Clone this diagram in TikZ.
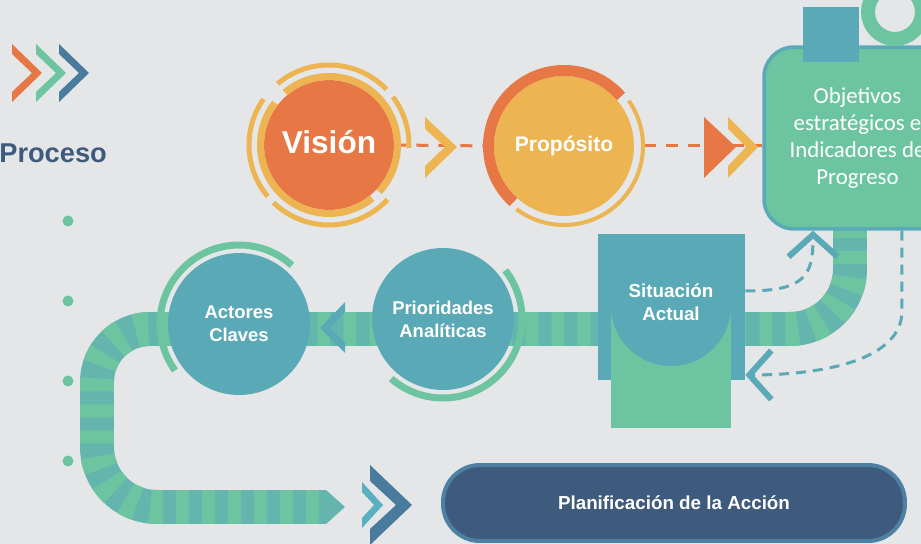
\documentclass[tikz,border=0pt]{standalone}
\usepackage{fontspec}
\setmainfont{Liberation Sans}
\newfontfamily\objfont{Carlito}
\usetikzlibrary{arrows.meta, positioning}

\definecolor{bgc}{HTML}{E5E6E8}
\definecolor{orangec}{HTML}{E77845}
\definecolor{yellowc}{HTML}{EDB452}
\definecolor{greenc}{HTML}{6CC4A1}
\definecolor{tealc}{HTML}{5AA9B7}
\definecolor{stripec}{HTML}{63B5AE}
\definecolor{navyc}{HTML}{3E5A7C}
\definecolor{bluec}{HTML}{487B9C}
\definecolor{edgec}{HTML}{4E80A1}
\definecolor{lighttealc}{HTML}{5AAFC0}

\begin{document}
\begin{tikzpicture}[x=0.02cm, y=0.02cm,
    >={Straight Barb[length=0.44cm, width=0.98cm, line width=0.12cm]},
    stage/.style={circle, inner sep=0pt, text=white, align=center, font=\bfseries\fontsize{10.5}{13}\selectfont},
    ring/.style={line width=0.14cm},
    thinring/.style={line width=0.1cm},
    band/.style={line width=0.68cm},
    orangedash/.style={orangec, line width=0.06cm, dash pattern=on 0.24cm off 0.2cm},
    tealdash/.style={tealc, line width=0.06cm, dash pattern=on 0.2cm off 0.14cm, ->}]
    \useasboundingbox (0,0) rectangle (921,-544);
    \fill[bgc] (0,0) rectangle (921,-544);
    \clip (0,0) rectangle (921,-544);

    % heading
    \foreach \dx/\col in {0/orangec, 24/greenc, 47/bluec}
        \fill[\col] (12+\dx,-44) -- (42+\dx,-73) -- (12+\dx,-102) -- (12+\dx,-92) -- (32+\dx,-73) -- (12+\dx,-54) -- cycle;
    \node[anchor=west, inner sep=0pt, text=navyc, font=\bfseries\fontsize{15.5}{18}\selectfont] (proceso) at (-1,-153) {Proceso};
    \foreach \y in {221,301,381,461}
        \fill[greenc] (68,-\y) circle (5.5);

    % striped road
    \draw[band, stripec, postaction={draw=greenc, dash pattern=on 0.26cm off 0.26cm}]
        (850,-225) -- (850,-269) arc[start angle=0, end angle=-90, radius=60]
        -- (150,-329) arc[start angle=90, end angle=180, radius=53]
        -- (97,-447) arc[start angle=180, end angle=270, radius=60] -- (326,-507);
    \fill[stripec] (326,-490) -- (345,-507) -- (326,-524) -- cycle;

    % goals box
    \node[draw=tealc, fill=greenc, line width=0.07cm, rounded corners=0.6cm, minimum width=3.74cm, minimum height=3.64cm,
        text=white, align=center, font=\objfont\fontsize{13}{15.5}\selectfont] (objetivos) at (857.5,-138)
        {Objetivos\\estratégicos e\\Indicadores de\\Progreso};
    \fill[tealc] (803,-7) rectangle (859,-62);
    \draw[greenc, line width=0.28cm] (895,-12) circle (27);

    % vision and purpose
    \node[stage, fill=orangec, minimum size=2.6cm, font=\bfseries\fontsize{18}{20}\selectfont] (vision) at (329,-145) {\raisebox{0.14cm}{Visión}};
    \node[stage, fill=yellowc, minimum size=2.8cm, font=\bfseries\fontsize{12}{14}\selectfont] (proposito) at (564,-146) {Propósito};
    \draw[orangedash] (vision.east) -- (proposito.west);
    \draw[orangedash, shorten <=0.2cm] (proposito.east) -- (proposito.east -| objetivos.west);
    \fill[yellowc] (425,-117) -- (457,-147) -- (425,-178) -- (425,-166) -- (445,-147) -- (425,-129) -- cycle;
    \fill[orangec] (704,-117) -- (736,-147) -- (704,-178) -- cycle;
    \fill[yellowc] (728,-117) -- (758,-147) -- (728,-178) -- (728,-166) -- (746,-147) -- (728,-129) -- cycle;

    \draw[yellowc, ring] (vision.center) ++(-43:68.5) arc[start angle=-43, end angle=130, radius=68.5];
    \draw[yellowc, ring] (vision.center) ++(142:68.5) arc[start angle=142, end angle=309, radius=68.5];
    \foreach \a/\b in {-2/37, 44/130, 145/220, 226/317}
        \draw[yellowc, thinring] (vision.center) ++(\a:80) arc[start angle=\a, end angle=\b, radius=80];
    \draw[orangec, line width=0.22cm] (proposito.center) ++(41:75.5) arc[start angle=41, end angle=228, radius=75.5];
    \draw[yellowc, line width=0.08cm] (proposito.center) ++(35:79) arc[start angle=35, end angle=-127, radius=79];

    % current situation
    \node[fill=tealc, minimum width=2.94cm, minimum height=2.92cm, inner sep=0pt] (situacion) at (671.5,-307) {};
    \fill[greenc] (611,-306) rectangle (731,-428);
    \fill[tealc] (611,-306) arc[start angle=180, end angle=360, radius=60] -- cycle;
    \node[text=white, align=center, font=\bfseries\fontsize{10.7}{13}\selectfont] (situaciontxt) at (671,-302) {Situación\\Actual};
    \draw[tealdash] ([yshift=0.32cm]situacion.east) .. controls +(1.2cm,0) and +(0,-0.9cm) .. ([xshift=-0.89cm]objetivos.south);
    \draw[tealdash] ([xshift=0.89cm]objetivos.south) -- ++(0,-1.6cm) .. controls +(0,-1.1cm) and +(1.2cm,0) .. ([yshift=-1.36cm]situacion.east);

    % priorities and actors
    \node[stage, fill=tealc, minimum size=2.84cm] (prioridades) at (443,-319) {Prioridades\\Analíticas};
    \node[stage, fill=tealc, minimum size=2.84cm] (actores) at (239,-324) {Actores\\Claves};
    \draw[greenc, ring] (actores.center) ++(48:79) arc[start angle=48, end angle=216, radius=79];
    \draw[greenc, ring] (prioridades.center) ++(38:79) arc[start angle=38, end angle=-131, radius=79];
    \fill[tealc] (345,-302) -- (320,-328) -- (345,-353) -- (345,-343) -- (330,-328) -- (345,-312) -- cycle;

    % action plan
    \fill[bluec] (370,-465) -- (412,-505) -- (370,-545) -- (370,-529) -- (396,-505) -- (370,-481) -- cycle;
    \fill[lighttealc] (362,-482) -- (383,-505) -- (362,-528) -- (362,-518) -- (374,-505) -- (362,-492) -- cycle;
    \node[fill=navyc, draw=edgec, line width=0.08cm, rounded corners=0.74cm, minimum width=9.24cm, minimum height=1.52cm,
        text=white, font=\bfseries\fontsize{10.7}{13}\selectfont] (planificacion) at (674,-503) {Planificación de la Acción};
\end{tikzpicture}
\end{document}
